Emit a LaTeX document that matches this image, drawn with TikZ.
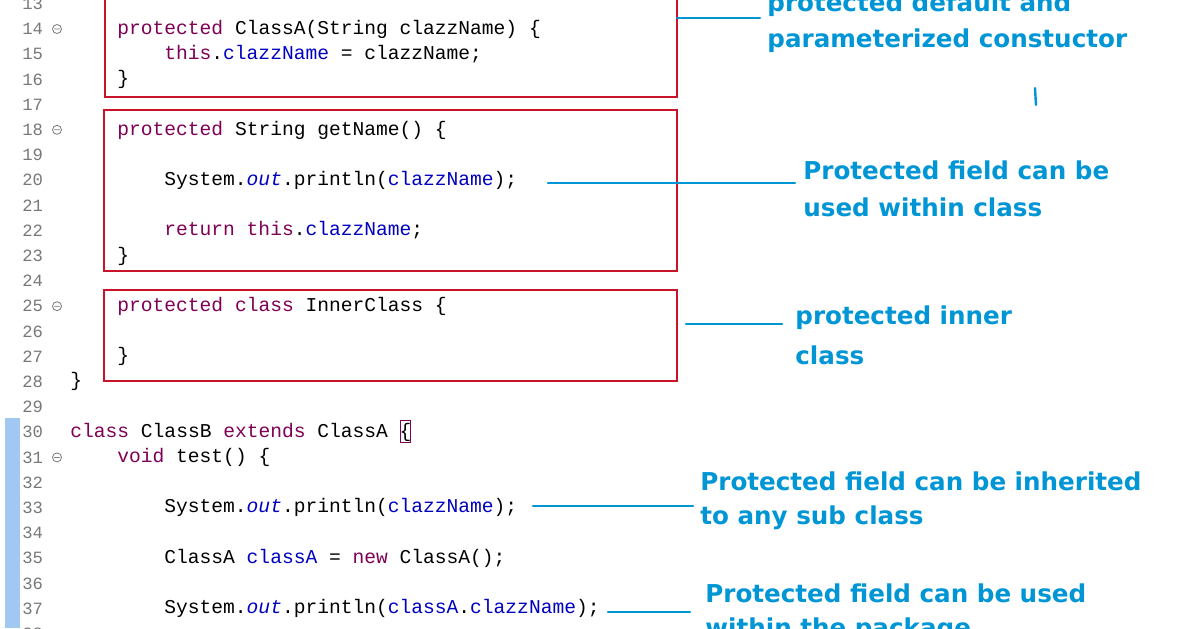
\documentclass[tikz,border=0pt]{standalone}
\usepackage{fontspec}
\setmonofont{Liberation Mono}
\newfontfamily\notefont{DejaVu Sans}
\definecolor{kwcol}{RGB}{127,0,85}
\definecolor{fldcol}{RGB}{0,0,192}
\definecolor{notecol}{RGB}{0,150,214}
\definecolor{boxcol}{RGB}{200,20,40}
\definecolor{numcol}{RGB}{120,120,120}
\definecolor{barcol}{RGB}{160,200,240}
\newcommand{\kw}[1]{\textcolor{kwcol}{#1}}
\newcommand{\fld}[1]{\textcolor{fldcol}{#1}}
\newcommand{\outf}{\textcolor{fldcol}{\itshape out}}
\begin{document}
\begin{tikzpicture}
  [x=0.5pt,y=-0.5pt,line cap=round,
   code/.style={anchor=west,inner sep=0pt,font=\ttfamily\fontsize{9.8}{11}\selectfont},
   num/.style={anchor=west,inner sep=0pt,text=numcol,font=\ttfamily\fontsize{8.6}{10}\selectfont},
   note/.style={anchor=west,inner sep=0pt,text=notecol,font=\notefont\bfseries\fontsize{12.3}{14}\selectfont},
   redbox/.style={draw=boxcol,line width=1.3pt},
   blueline/.style={draw=notecol,line width=1.2pt}]
\useasboundingbox (0,0) rectangle (1196,628);
\fill[white] (0,0) rectangle (1196,628);

%changed lines bar
\fill[barcol] (5,418) rectangle (20,628);

%line numbers
\foreach \n in {13,...,38}
  \node[num] (n\n) at (22,{29+(\n-14)*25.2}) {\n};
\foreach \n in {14,18,25,31}
  \draw[numcol,thin] (57,{29+(\n-14)*25.2}) circle (4.5) +(-2.5,0) -- +(2.5,0);

%code
\node[code] (l14) at (117,29) {\kw{protected} ClassA(String clazzName) \{};
\node[code] (l15) at (164,54) {\kw{this}.\fld{clazzName} = clazzName;};
\node[code] (l16) at (117,79) {\}};
\node[code] (l18) at (117,130) {\kw{protected} String getName() \{};
\node[code] (l20) at (164,180) {System.\outf.println(\fld{clazzName});};
\node[code] (l22) at (164,230) {\kw{return} \kw{this}.\fld{clazzName};};
\node[code] (l23) at (117,256) {\}};
\node[code] (l25) at (117,306) {\kw{protected} \kw{class} InnerClass \{};
\node[code] (l27) at (117,356) {\}};
\node[code] (l28) at (70,381) {\}};
\node[code] (l30) at (70,432) {\kw{class} ClassB \kw{extends} ClassA \{};
\draw[kwcol,thin] (400,420) rectangle (410,442);
\node[code] (l31) at (117,457) {\kw{void} test() \{};
\node[code] (l33) at (164,507) {System.\outf.println(\fld{clazzName});};
\node[code] (l35) at (164,558) {ClassA \fld{classA} = \kw{new} ClassA();};
\node[code] (l37) at (164,608) {System.\outf.println(\fld{classA}.\fld{clazzName});};

%boxes
\draw[redbox] (105,-5) rectangle (677,97);
\draw[redbox] (104,110) rectangle (677,271);
\draw[redbox] (104,290) rectangle (677,381);

%notes
\node[note] (t1a) at (767,5) {protected default and};
\node[note] (t1b) at (767,41) {parameterized constuctor};
\node[note] (t2a) at (803,170) {Protected field can be};
\node[note] (t2b) at (803,207) {used within class};
\node[note] (t3a) at (795,318) {protected inner};
\node[note] (t3b) at (795,355) {class};
\node[note] (t4a) at (700,481) {Protected field can be inherited};
\node[note] (t4b) at (700,518) {to any sub class};
\node[note] (t5a) at (705,593) {Protected field can be used};
\node[note] (t5b) at (705,630) {within the package};

%leaders
\coordinate (c1) at (677,18);
\coordinate (c2) at (548,183);
\coordinate (c3) at (686,324);
\coordinate (c4) at (533,506);
\coordinate (c5) at (608,612);
\draw[blueline] (c1) -- (760,18);
\draw[blueline] (c2) -- (795,183);
\draw[blueline] (c3) -- (782,324);
\draw[blueline] (c4) -- (693,506);
\draw[blueline] (c5) -- (690,612);
\draw[blueline] (1035,88) -- (1036,105);
\end{tikzpicture}
\end{document}
